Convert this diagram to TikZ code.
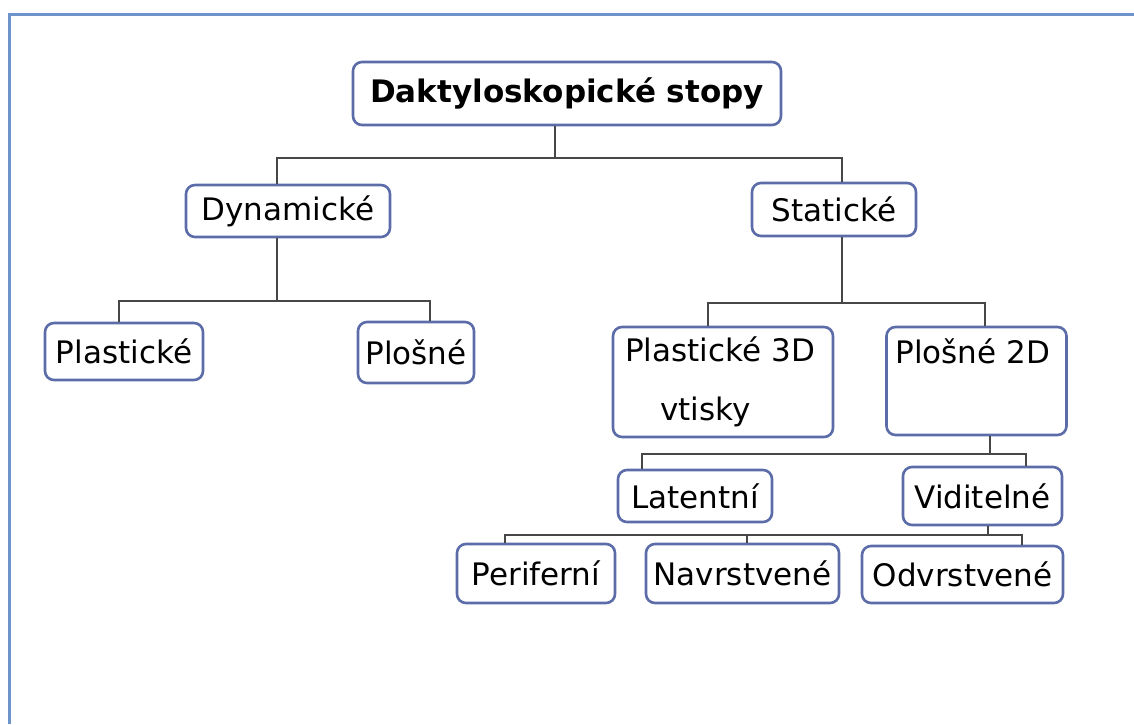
\documentclass[tikz,border=0pt]{standalone}
\usepackage{fontspec}
\setmainfont{DejaVu Sans}
\usepackage{tikz}

\definecolor{boxline}{HTML}{5B6CA8}
\definecolor{linkline}{HTML}{474747}
\definecolor{frameline}{HTML}{6E94CC}

\begin{document}
\begin{tikzpicture}[
    x=1pt, y=-1pt,
    box/.style={draw=boxline, line width=2.6pt, rounded corners=9pt, fill=white, align=center, inner sep=0pt, font=\fontsize{31pt}{38pt}\selectfont},
    tallbox/.style={box, align=left, inner xsep=12pt, font=\fontsize{31pt}{59pt}\selectfont},
    link/.style={draw=linkline, line width=2.8pt},
    frame/.style={draw=frameline, line width=3pt}
    ]
    \useasboundingbox (0,0) rectangle (1134,724);
    \draw[frame] (9,724) -- (9,14) -- (1134,14);

    \node[box, minimum width=428pt, minimum height=63pt, font=\fontsize{31pt}{38pt}\selectfont\bfseries] (root) at (567,93.5) {Daktyloskopické stopy};

    \node[box, minimum width=204pt, minimum height=52pt] (dyn) at (288,211) {Dynamické};
    \node[box, minimum width=164pt, minimum height=53pt] (stat) at (834,209.5) {Statické};

    \node[box, minimum width=158pt, minimum height=57pt] (plast) at (124,351.5) {Plastické};
    \node[box, minimum width=116pt, minimum height=61pt] (plos) at (416,352.5) {Plošné};

    \node[tallbox, text width=196pt, minimum height=110pt] (plast3d) at (723,382) {Plastické 3D\\\hspace*{35pt}vtisky};
    \node[tallbox, text width=162pt, inner xsep=9pt, minimum height=108pt] (plos2d) at (976.5,381) {Plošné~2D\\\mbox{}};

    \node[box, minimum width=154pt, minimum height=52pt] (latent) at (695,496) {Latentní};
    \node[box, minimum width=159pt, minimum height=58pt] (vidit) at (982.5,496) {Viditelné};

    \node[box, minimum width=158pt, minimum height=59pt] (perif) at (536,573.5) {Periferní};
    \node[box, minimum width=193pt, minimum height=59pt] (navr) at (742.5,573.5) {Navrstvené};
    \node[box, minimum width=201pt, minimum height=57pt] (odvr) at (962.5,574.5) {Odvrstvené};

    % bar levels
    \coordinate (bar1) at (0,158);
    \coordinate (bar2) at (0,301);
    \coordinate (bar3) at (0,303);
    \coordinate (bar4) at (0,454);
    \coordinate (bar5) at (0,535);

    \draw[link] (root.south -| 555,0) -- (bar1 -| 555,0);
    \draw[link] (dyn.north -| 277,0) -- (bar1 -| 277,0) -- (bar1 -| 842,0) -- (stat.north -| 842,0);

    \draw[link] (dyn.south -| 277,0) -- (bar2 -| 277,0);
    \draw[link] (plast.north -| 119,0) -- (bar2 -| 119,0) -- (bar2 -| 430,0) -- (plos.north -| 430,0);

    \draw[link] (stat.south -| 842,0) -- (bar3 -| 842,0);
    \draw[link] (plast3d.north -| 708,0) -- (bar3 -| 708,0) -- (bar3 -| 985,0) -- (plos2d.north -| 985,0);

    \draw[link] (plos2d.south -| 990,0) -- (bar4 -| 990,0);
    \draw[link] (latent.north -| 642,0) -- (bar4 -| 642,0) -- (bar4 -| 1026,0) -- (vidit.north -| 1026,0);

    \draw[link] (vidit.south -| 988,0) -- (bar5 -| 988,0);
    \draw[link] (perif.north -| 505,0) -- (bar5 -| 505,0) -- (bar5 -| 1022,0) -- (odvr.north -| 1022,0);
    \draw[link] (navr.north -| 747,0) -- (bar5 -| 747,0);

\end{tikzpicture}
\end{document}
